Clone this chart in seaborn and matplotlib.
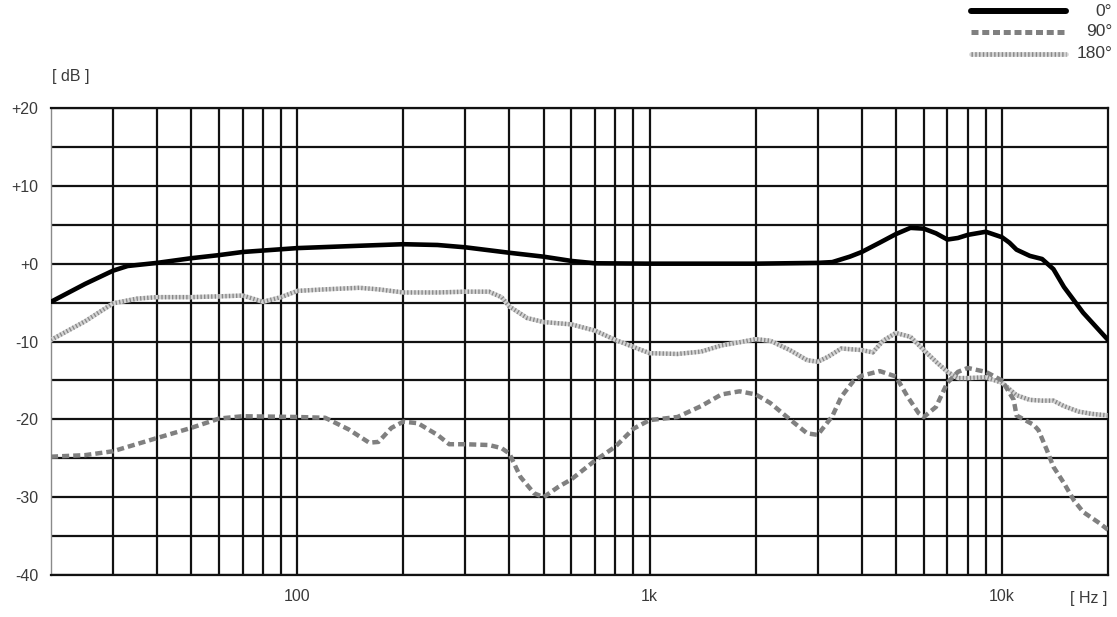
import matplotlib
matplotlib.use("Agg")
import matplotlib.pyplot as plt
from matplotlib.lines import Line2D
import seaborn as sns

# frequency response readings (Hz, dB)
freq_0 = [20, 25, 30, 33, 40, 50, 60, 70, 100, 150,
          200, 250, 300, 400, 500, 600, 700, 1000, 2000, 3000,
          3300, 3700, 4000, 4500, 5000, 5500, 6000, 6500, 7000, 7500,
          8000, 9000, 10000, 10500, 11000, 12000, 13000, 14000, 15000, 17000,
          20000]
db_0 = [-4.9, -2.6, -0.9, -0.3, 0.1, 0.7, 1.1, 1.5, 2.0, 2.3,
        2.5, 2.4, 2.1, 1.4, 0.9, 0.35, 0.05, 0.0, 0.0, 0.1,
        0.2, 0.9, 1.5, 2.7, 3.8, 4.6, 4.5, 3.9, 3.1, 3.3,
        3.7, 4.1, 3.4, 2.7, 1.8, 1.0, 0.6, -0.7, -3.0, -6.3,
        -9.8]

freq_90 = [20, 25, 30, 40, 50, 60, 70, 100, 120, 140,
           160, 170, 185, 200, 220, 250, 270, 300, 350, 380,
           400, 430, 470, 500, 550, 600, 700, 800, 900, 1000,
           1200, 1400, 1600, 1800, 2000, 2200, 2500, 2800, 3000, 3300,
           3500, 3800, 4000, 4500, 5000, 5400, 5800, 6000, 6500, 7000,
           7500, 8000, 9000, 10000, 10800, 11000, 12300, 12700, 13400, 14000,
           15000, 16000, 17000, 19000, 20000]
db_90 = [-24.8, -24.6, -24.1, -22.4, -21.1, -19.9, -19.6, -19.7, -19.8, -21.3,
         -23.0, -22.9, -21.1, -20.3, -20.5, -22.0, -23.2, -23.2, -23.3, -23.7,
         -24.4, -27.4, -29.5, -30.0, -28.7, -27.7, -25.3, -23.5, -21.2, -20.1,
         -19.7, -18.3, -16.8, -16.4, -16.8, -17.9, -20.0, -21.8, -22.0, -19.6,
         -17.1, -15.0, -14.4, -13.8, -14.5, -17.1, -19.2, -19.7, -18.4, -15.3,
         -13.9, -13.4, -13.9, -15.0, -17.5, -19.5, -20.7, -21.4, -23.9, -26.1,
         -28.2, -30.4, -31.9, -33.4, -34.2]

freq_180 = [20, 25, 30, 35, 40, 50, 60, 70, 80, 90,
            100, 120, 150, 170, 200, 250, 300, 350, 380, 400,
            450, 500, 600, 700, 800, 900, 1000, 1200, 1400, 1600,
            1800, 2000, 2200, 2500, 2800, 3000, 3200, 3500, 4000, 4300,
            4600, 5000, 5500, 6000, 6500, 7000, 7500, 8000, 9000, 10000,
            11000, 12000, 13000, 14000, 15000, 16500, 18000, 20000]
db_180 = [-9.8, -7.4, -5.1, -4.5, -4.3, -4.3, -4.2, -4.1, -4.9, -4.3,
          -3.5, -3.3, -3.1, -3.3, -3.7, -3.7, -3.6, -3.6, -4.3, -5.5,
          -7.0, -7.5, -7.8, -8.6, -9.8, -10.7, -11.5, -11.6, -11.3, -10.5,
          -10.1, -9.7, -9.9, -11.1, -12.4, -12.6, -12.0, -10.9, -11.1, -11.4,
          -9.9, -8.9, -9.4, -11.1, -12.6, -13.9, -14.7, -14.7, -14.6, -15.3,
          -16.9, -17.5, -17.6, -17.6, -18.3, -19.0, -19.3, -19.5]

x_major = [100, 1000, 10000]
x_labels = ["100", "1k", "10k"]
x_minor = [30, 40, 50, 60, 70, 80, 90,
           200, 300, 400, 500, 600, 700, 800, 900,
           2000, 3000, 4000, 5000, 6000, 7000, 8000, 9000]
y_major = [-40, -30, -20, -10, 0, 10, 20]
y_labels = ["-40", "-30", "-20", "-10", "+0", "+10", "+20"]
y_minor = [-35, -25, -15, -5, 5, 15]
legend_labels = ["0°", "90°", "180°"]

sns.set_style("white")
plt.rcParams["font.family"] = ["Liberation Sans", "DejaVu Sans"]
text_col = "#3a3a3a"

fig = plt.figure(figsize=(11.17, 6.17), dpi=100)
ax = fig.add_axes([51 / 1117, 1 - 575 / 617, 1057 / 1117, 467 / 617])

# 180 deg: light band with fine dark ticks
sns.lineplot(x=freq_180, y=db_180, ax=ax, color="#d4d4d4", linewidth=3.2,
             errorbar=None, zorder=3)
sns.lineplot(x=freq_180, y=db_180, ax=ax, color="#888888", linewidth=3.2,
             linestyle=(0, (0.3, 0.5)), errorbar=None, zorder=3)
# 90 deg: gray dashes
sns.lineplot(x=freq_90, y=db_90, ax=ax, color="#808080", linewidth=3.2,
             linestyle=(0, (1.6, 0.9)), errorbar=None, zorder=4)
# 0 deg: solid black
sns.lineplot(x=freq_0, y=db_0, ax=ax, color="black", linewidth=3.3,
             errorbar=None, zorder=5)

ax.set_xscale("log")
ax.set_xlim(20, 20000)
ax.set_ylim(-40, 20)
ax.set_xticks(x_major)
ax.set_xticklabels(x_labels)
ax.set_xticks(x_minor, minor=True)
ax.set_xticklabels([], minor=True)
ax.set_yticks(y_major)
ax.set_yticklabels(y_labels)
ax.set_yticks(y_minor, minor=True)
ax.tick_params(which="both", length=0)
ax.tick_params(axis="y", pad=9, labelsize=11.5, labelcolor=text_col)
ax.tick_params(axis="x", pad=10, labelsize=11.5, labelcolor=text_col)
ax.grid(True, which="both", color="#111111", linewidth=1.6, zorder=1)
ax.set_xlabel("")
ax.set_ylabel("")

for side in ["top", "right", "bottom"]:
    ax.spines[side].set_color("#111111")
    ax.spines[side].set_linewidth(1.6)
ax.spines["left"].set_color("#8a8a8a")
ax.spines["left"].set_linewidth(1.0)

fig.text(52 / 1117, 1 - 76 / 617, "[ dB ]", fontsize=11.5, color=text_col,
         ha="left", va="center")
fig.text(1107 / 1117, 1 - 598 / 617, "[ Hz ]", fontsize=11.5, color=text_col,
         ha="right", va="center")

# legend, top right
rows = [1 - 11 / 617, 1 - 32 / 617, 1 - 54 / 617]
x0, x1 = 971 / 1117, 1066 / 1117
fig.add_artist(Line2D([x0, x1], [rows[0]] * 2, color="black", linewidth=4.3))
fig.add_artist(Line2D([x0, x1], [rows[1]] * 2, color="#808080", linewidth=3.6,
                      linestyle=(0, (1.4, 0.75))))
fig.add_artist(Line2D([x0, x1], [rows[2]] * 2, color="#d4d4d4", linewidth=3.4))
fig.add_artist(Line2D([x0, x1], [rows[2]] * 2, color="#888888", linewidth=3.4,
                      linestyle=(0, (0.3, 0.5))))
for y, lab in zip(rows, legend_labels):
    fig.text(1112 / 1117, y, lab, fontsize=12.5, color=text_col,
             ha="right", va="center")

fig.savefig("out.png", dpi=100)
